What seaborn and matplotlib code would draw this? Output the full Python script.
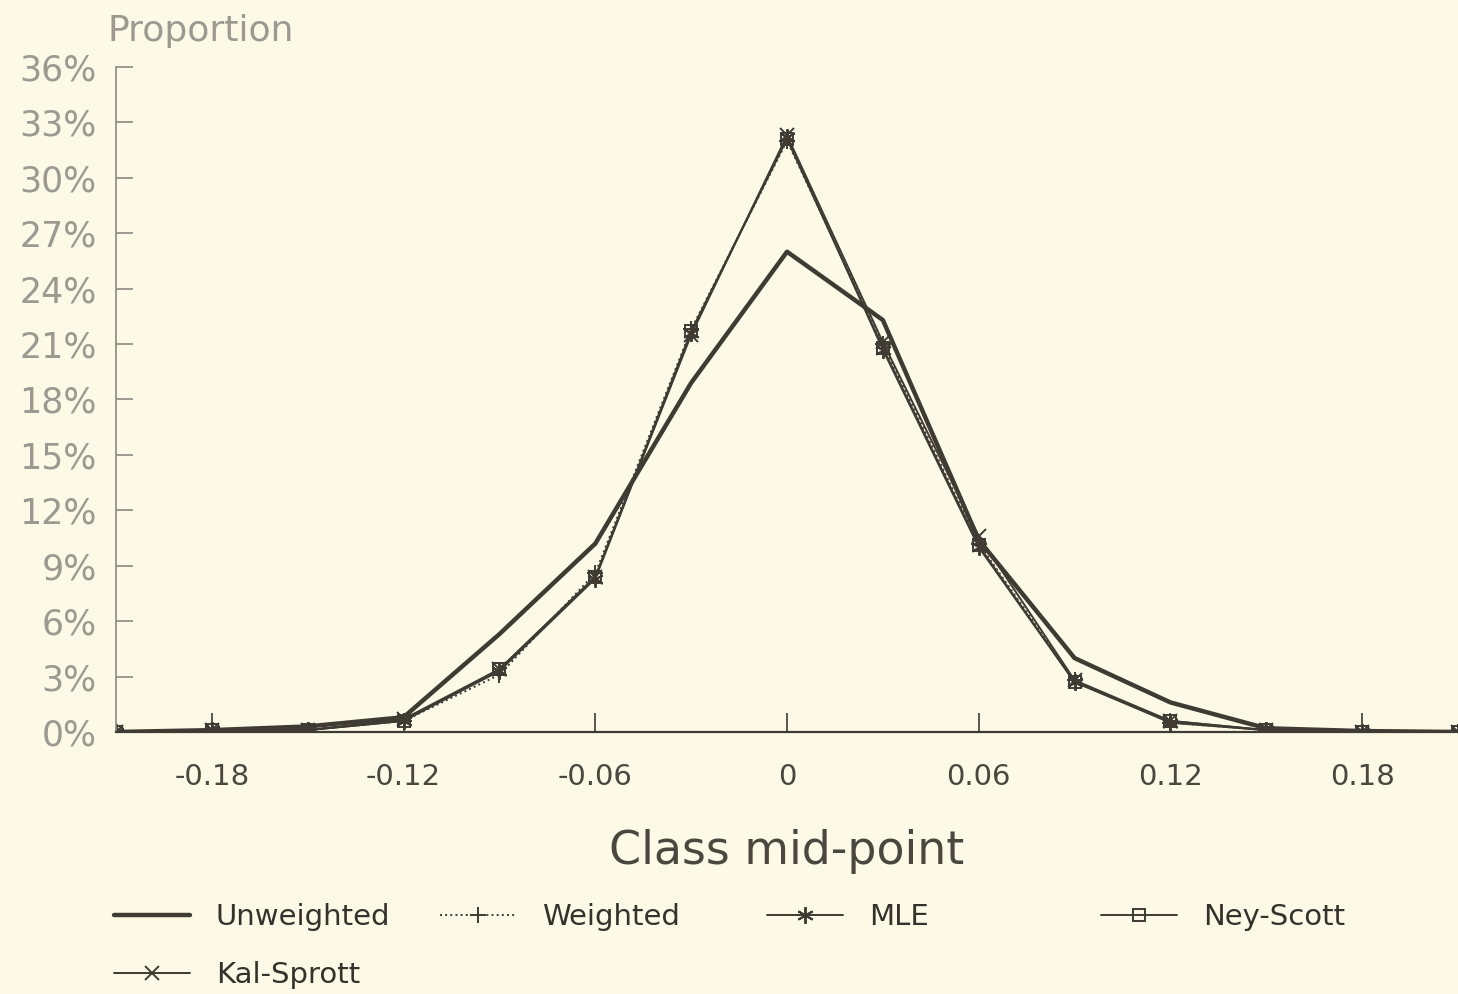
import numpy as np
import pandas as pd
import matplotlib
matplotlib.use("Agg")
import matplotlib.pyplot as plt
import seaborn as sns
from matplotlib.ticker import PercentFormatter
from matplotlib.lines import Line2D

# Class mid-points and proportions (%)
mid_points = [-0.21, -0.18, -0.15, -0.12, -0.09, -0.06, -0.03, 0.0,
              0.03, 0.06, 0.09, 0.12, 0.15, 0.18, 0.21]
unweighted = [0.0, 0.1, 0.3, 0.8, 5.3, 10.2, 18.9, 26.0, 22.3, 10.4, 4.0, 1.6, 0.2, 0.05, 0.0]
weighted = [0.0, 0.1, 0.1, 0.6, 3.1, 8.6, 21.8, 32.0, 21.0, 10.2, 2.8, 0.5, 0.1, 0.0, 0.0]
mle = [0.0, 0.1, 0.1, 0.6, 3.3, 8.3, 21.6, 32.2, 20.7, 10.0, 2.7, 0.5, 0.1, 0.0, 0.0]
ney_scott = [0.0, 0.1, 0.1, 0.6, 3.4, 8.4, 21.7, 32.1, 20.8, 10.1, 2.7, 0.6, 0.1, 0.0, 0.0]
kal_sprott = [0.0, 0.1, 0.1, 0.7, 3.4, 8.4, 21.5, 32.3, 21.1, 10.6, 2.8, 0.6, 0.1, 0.0, 0.0]

y_ticks = list(range(0, 37, 3))
x_ticks = [-0.18, -0.12, -0.06, 0, 0.06, 0.12, 0.18]
x_tick_labels = ["-0.18", "-0.12", "-0.06", "0", "0.06", "0.12", "0.18"]

sns.set_style("white")
plt.rcParams["font.family"] = ["DejaVu Sans"]
plt.rcParams["axes.unicode_minus"] = False

bg = "#fcf9e7"
ink = "#3f3b33"

fig = plt.figure(figsize=(14.58, 9.94), dpi=100, facecolor=bg)
ax = fig.add_axes([0.0796, 0.2636, 0.9204, 0.669])
ax.set_facecolor(bg)

asterisk = (6, 2, 0)
thin = dict(linewidth=1.4, linestyle="-", markeredgewidth=1.4, markeredgecolor=ink)
series = [
    ("Unweighted", unweighted, dict(linewidth=3.2, linestyle="-", marker=None)),
    ("Weighted", weighted, {**thin, "linestyle": ":", "marker": "+", "markersize": 12}),
    ("MLE", mle, {**thin, "marker": asterisk, "markersize": 12}),
    ("Ney-Scott", ney_scott, {**thin, "marker": "s", "markersize": 9, "markerfacecolor": "none"}),
    ("Kal-Sprott", kal_sprott, {**thin, "marker": "x", "markersize": 10}),
]

handles = {}
for name, values, style in series:
    df = pd.DataFrame({"mid": mid_points, "prop": values})
    sns.lineplot(data=df, x="mid", y="prop", ax=ax, color=ink, legend=False, **style)
    handles[name] = Line2D([], [], color=ink, **style)

ax.set_xlim(-0.21, 0.21)
ax.set_ylim(0, 36)
ax.set_yticks(y_ticks)
ax.yaxis.set_major_formatter(PercentFormatter(decimals=0))
ax.set_xticks(x_ticks)
ax.set_xticklabels(x_tick_labels)
ax.tick_params(axis="y", left=True, direction="in", length=12, width=1.2, color="#8c8a80",
               labelsize=25, labelcolor="#9c9a90", pad=14)
ax.tick_params(axis="x", bottom=True, direction="in", length=14, width=1.2, color=ink,
               labelsize=21, labelcolor="#4a473f", pad=22)

for side in ["top", "right"]:
    ax.spines[side].set_visible(False)
ax.spines["left"].set_color("#8c8a80")
ax.spines["left"].set_linewidth(1.2)
ax.spines["bottom"].set_color(ink)
ax.spines["bottom"].set_linewidth(1.6)

ax.set_xlabel("Class mid-point", fontsize=33, color="#4a473f", labelpad=28)
ax.set_ylabel("")
fig.text(0.074, 0.969, "Proportion", fontsize=26, color="#9c9a90", va="center", ha="left")

# legend entries placed individually to mimic the original layout
legend_pos = [
    ("Unweighted", 0.078, 0.077),
    ("Weighted", 0.302, 0.077),
    ("MLE", 0.526, 0.077),
    ("Ney-Scott", 0.755, 0.077),
    ("Kal-Sprott", 0.078, 0.019),
]
for name, lx, ly in legend_pos:
    fig.legend(handles=[handles[name]], labels=[name], loc="center left",
               bbox_to_anchor=(lx, ly), frameon=False, fontsize=21,
               handlelength=2.6, handletextpad=0.9, numpoints=1,
               labelcolor="#35322b", borderaxespad=0, borderpad=0)

fig.savefig("out.png", dpi=100, facecolor=bg)
